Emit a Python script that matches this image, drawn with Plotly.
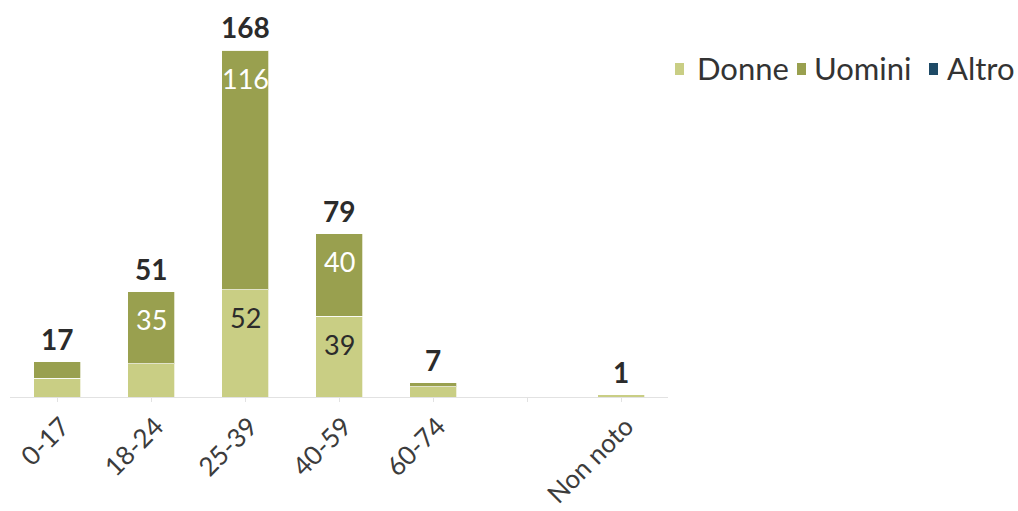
import plotly.graph_objects as go

# Age groups (position 5 is an unlabeled gap before "Non noto")
age_groups = ["0-17", "18-24", "25-39", "40-59", "60-74", "Non noto"]
positions = [0, 1, 2, 3, 4, 6]
tick_positions = [0, 1, 2, 3, 4, 5, 6]
tick_labels = ["0-17", "18-24", "25-39", "40-59", "60-74", "", "Non noto"]

donne = [9, 16, 52, 39, 5, 1]
uomini = [8, 35, 116, 40, 2, 0]
altro = [0, 0, 0, 0, 0, 0]

totals = [d + u + a for d, u, a in zip(donne, uomini, altro)]

COL_DONNE = "#c9ce84"
COL_UOMINI = "#99a04f"
COL_ALTRO = "#1e4a66"
TEXT_DARK = "#2b2b2b"
FONT = "Lato, 'Source Sans Pro', 'Noto Sans', sans-serif"

W, H = 1018, 511
M_L, M_R, M_T, M_B = 10, 350, 10, 114
PLOT_W = W - M_L - M_R
PLOT_H = H - M_T - M_B


def paper_x(px):
    return (px - M_L) / PLOT_W


def paper_y(py):
    return (H - M_B - py) / PLOT_H


fig = go.Figure()

for name, vals, col in [("Donne", donne, COL_DONNE),
                        ("Uomini", uomini, COL_UOMINI),
                        ("Altro", altro, COL_ALTRO)]:
    fig.add_trace(go.Bar(
        x=positions, y=vals, name=name, marker_color=col,
        marker_line=dict(color="rgba(255,255,255,0.7)", width=1),
        showlegend=False, hoverinfo="skip",
    ))

# Segment labels near the top of the larger segments
LABEL_MIN = 30
for vals, base, col in [(donne, [0] * len(donne), TEXT_DARK),
                        (uomini, donne, "white")]:
    for p, v, b in zip(positions, vals, base):
        if v >= LABEL_MIN:
            fig.add_annotation(
                x=p, y=b + v, text=str(v), showarrow=False,
                yanchor="middle", yshift=-28,
                font=dict(size=27, color=col, family=FONT),
            )

# Total above each stack
for p, t in zip(positions, totals):
    fig.add_annotation(
        x=p, y=t, text=f"<b>{t}</b>", showarrow=False, yanchor="bottom",
        yshift=4, font=dict(size=28, color=TEXT_DARK, family=FONT),
    )

# Legend: small swatch + label for each series
legend_items = [
    ("Donne", COL_DONNE, 675, 695),
    ("Uomini", COL_UOMINI, 797, 812),
    ("Altro", COL_ALTRO, 929, 945),
]
for name, col, sx, tx in legend_items:
    fig.add_shape(
        type="rect", xref="paper", yref="paper",
        x0=paper_x(sx), x1=paper_x(sx + 9),
        y0=paper_y(75), y1=paper_y(63),
        fillcolor=col, line_width=0,
    )
    fig.add_annotation(
        xref="paper", yref="paper", x=paper_x(tx), y=paper_y(68),
        xanchor="left", yanchor="middle", text=name, showarrow=False,
        font=dict(size=31, color="#333333", family=FONT),
    )

fig.update_layout(
    barmode="stack",
    bargap=0.5,
    width=W, height=H,
    margin=dict(l=M_L, r=M_R, t=M_T, b=M_B, autoexpand=False),
    plot_bgcolor="white", paper_bgcolor="white",
    font=dict(family=FONT, color=TEXT_DARK),
    showlegend=False,
)
fig.update_xaxes(
    range=[-0.5, 6.5], tickvals=tick_positions, ticktext=tick_labels,
    tickangle=-45, tickfont=dict(size=26, color="#3c3c3c", family=FONT),
    ticklabelshift=5, ticklabelstandoff=-1,
    showline=True, linecolor="#e2e2e2", linewidth=1, showgrid=False,
    ticks="outside", ticklen=4, tickcolor="#e2e2e2", tickwidth=1,
    zeroline=False, automargin=False,
)
fig.update_yaxes(
    range=[0, 187.4], visible=False, showgrid=False, zeroline=False,
)

fig.write_html("out.html")
